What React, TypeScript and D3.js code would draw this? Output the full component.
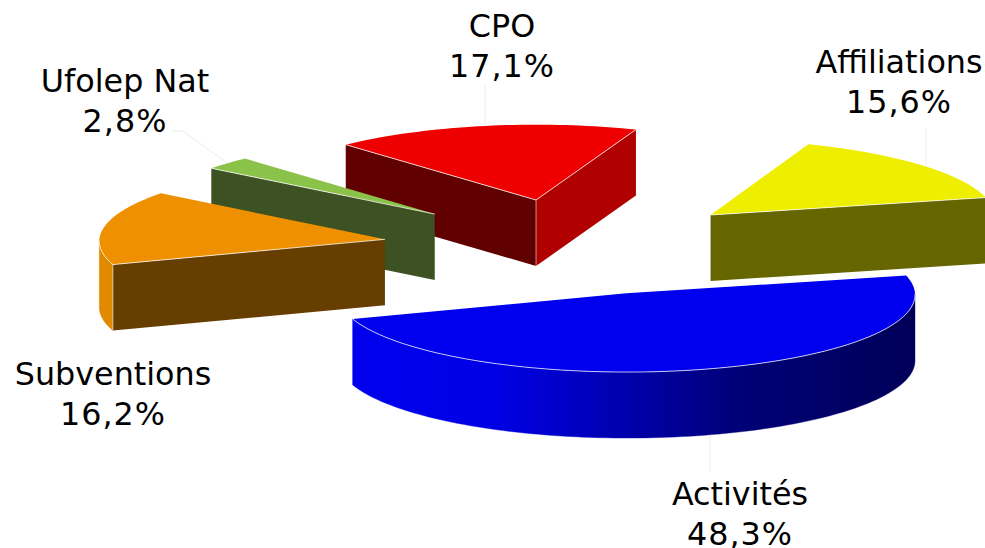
import React from "react";
import * as d3 from "d3";

const categories = ["Affiliations", "Activités", "Subventions", "Ufolep Nat", "CPO"];
const values = [15.6, 48.3, 16.2, 2.8, 17.1];
const valueLabels = ["15,6%", "48,3%", "16,2%", "2,8%", "17,1%"];

const topColors = ["#eeee00", "#0000ee", "#ee9000", "#8bc34a", "#ee0000"];
const startWallColors = ["#666600", "#0000ee", "#663e00", "#3d5223", "#600000"];
const endWallColors = ["#666600", "#0000ee", "#663e00", "#3d5223", "#b00000"];
const outerWallColors = ["#666600", "url(#blueWall)", "#e08a00", "#3d5223", "#b00000"];
const paintOrder = [4, 0, 3, 2, 1];

const labelX = [899, 740, 113, 125, 502];
const labelY = [73, 505, 385, 92, 37];
const leaderEnds: ([number, number][] | null)[] = [
  [[926, 128]],
  [[710, 472]],
  null,
  [[183, 131], [172, 131]],
  [[485, 85]],
];

const W = 985, H = 548;
const cx = 571, cy = 247, Rx = 286, Ry = 77, perspX = 0.015, perspY = 0.01, explodeX = 0.66, explodeY = 0.625, depth = 66;
const startDeg = 20;
const warp = (1.3 * Math.PI) / 180;

function project(X: number, Y: number): [number, number] {
  return [cx + (Rx * X) / (1 + perspX * Y), cy - (Ry * Y) / (1 + perspY * Y)];
}

const line = d3.line<[number, number]>().x((p) => p[0]).y((p) => p[1]);

function wall(pts: [number, number][]): string {
  const low = pts.map((p) => [p[0], p[1] + depth] as [number, number]).reverse();
  return line([...pts, ...low]) + "Z";
}

export default function App() {
  const arcs = d3
    .pie<number>()
    .sort(null)
    .startAngle((startDeg * Math.PI) / 180)
    .endAngle((startDeg * Math.PI) / 180 + 2 * Math.PI)(values);

  const slices = arcs.map((a) => {
    const mid = (a.startAngle + a.endAngle) / 2;
    const ox = explodeX * Math.sin(mid);
    const oy = explodeY * Math.cos(mid);
    const at = (t: number) => {
      const w = t + warp * Math.sin(2 * t);
      return project(ox + Math.sin(w), oy + Math.cos(w));
    };
    const apex = project(ox, oy);
    const n = Math.max(8, Math.round((a.endAngle - a.startAngle) * 40));
    const rim = d3.range(n + 1).map((i) => at(a.startAngle + ((a.endAngle - a.startAngle) * i) / n));
    const outer: [number, number][] = [];
    rim.forEach((p, i) => {
      if (i > 0 && p[0] < rim[i - 1][0]) {
        if (outer.length === 0) outer.push(rim[i - 1]);
        outer.push(p);
      }
    });
    return { mid, at, apex, rim, outer };
  });

  const edge = "rgba(255,255,255,0.75)";
  const vEdge = "rgba(255,255,255,0.55)";

  return (
    <svg
      width={W}
      height={H}
      viewBox={`0 0 ${W} ${H}`}
      style={{ position: "absolute", left: 0, top: 0, background: "#fff" }}
      fontFamily="'DejaVu Sans', Verdana, sans-serif"
    >
      <defs>
        <linearGradient id="blueWall" gradientUnits="userSpaceOnUse" x1={355} x2={915} y1={0} y2={0}>
          <stop offset="0" stopColor="#0000ee" />
          <stop offset="0.25" stopColor="#0000e6" />
          <stop offset="0.5" stopColor="#0000a8" />
          <stop offset="0.68" stopColor="#000078" />
          <stop offset="1" stopColor="#000058" />
        </linearGradient>
      </defs>

      {slices.map((s, i) => {
        const ends = leaderEnds[i];
        if (!ends) return null;
        const anchor = s.at(s.mid);
        const near = Math.cos(s.mid) < 0;
        const from: [number, number] = near ? [anchor[0], anchor[1] + depth] : anchor;
        const to = ends[0];
        const pts: [number, number][] = [[ends.length === 1 ? to[0] : from[0], from[1]], ...ends];
        return <path key={i} d={line(pts) ?? ""} fill="none" stroke="#ececec" strokeWidth={1} />;
      })}

      {paintOrder.map((i) => {
        const s = slices[i];
        const first = s.rim[0];
        const last = s.rim[s.rim.length - 1];
        const showStart = first[0] < s.apex[0];
        const showEnd = s.apex[0] < last[0];
        const topPath = line([s.apex, ...s.rim]) + "Z";
        return (
          <g key={i}>
            {s.outer.length > 1 && (
              <path d={wall(s.outer)} fill={outerWallColors[i]} stroke={outerWallColors[i]} strokeWidth={0.4} />
            )}
            {showStart && <path d={wall([s.apex, first])} fill={startWallColors[i]} />}
            {showEnd && <path d={wall([last, s.apex])} fill={endWallColors[i]} />}
            <path d={topPath} fill={topColors[i]} />
            {showStart && <path d={line([s.apex, first]) ?? ""} fill="none" stroke={edge} strokeWidth={1} />}
            {showEnd && <path d={line([last, s.apex]) ?? ""} fill="none" stroke={edge} strokeWidth={1} />}
            {s.outer.length > 1 && <path d={line(s.outer) ?? ""} fill="none" stroke={edge} strokeWidth={1} />}
            {showStart && showEnd && (
              <path d={line([s.apex, [s.apex[0], s.apex[1] + depth]]) ?? ""} stroke={vEdge} strokeWidth={1} />
            )}
            {showStart && s.outer.length > 1 && (
              <path d={line([first, [first[0], first[1] + depth]]) ?? ""} stroke={vEdge} strokeWidth={1} />
            )}
          </g>
        );
      })}

      {categories.map((c, i) => (
        <text key={c} x={labelX[i]} y={labelY[i]} textAnchor="middle" fontSize={31.8} fill="#000">
          <tspan x={labelX[i]}>{c}</tspan>
          <tspan x={labelX[i]} dy={39.5} letterSpacing={1}>{valueLabels[i]}</tspan>
        </text>
      ))}
    </svg>
  );
}
